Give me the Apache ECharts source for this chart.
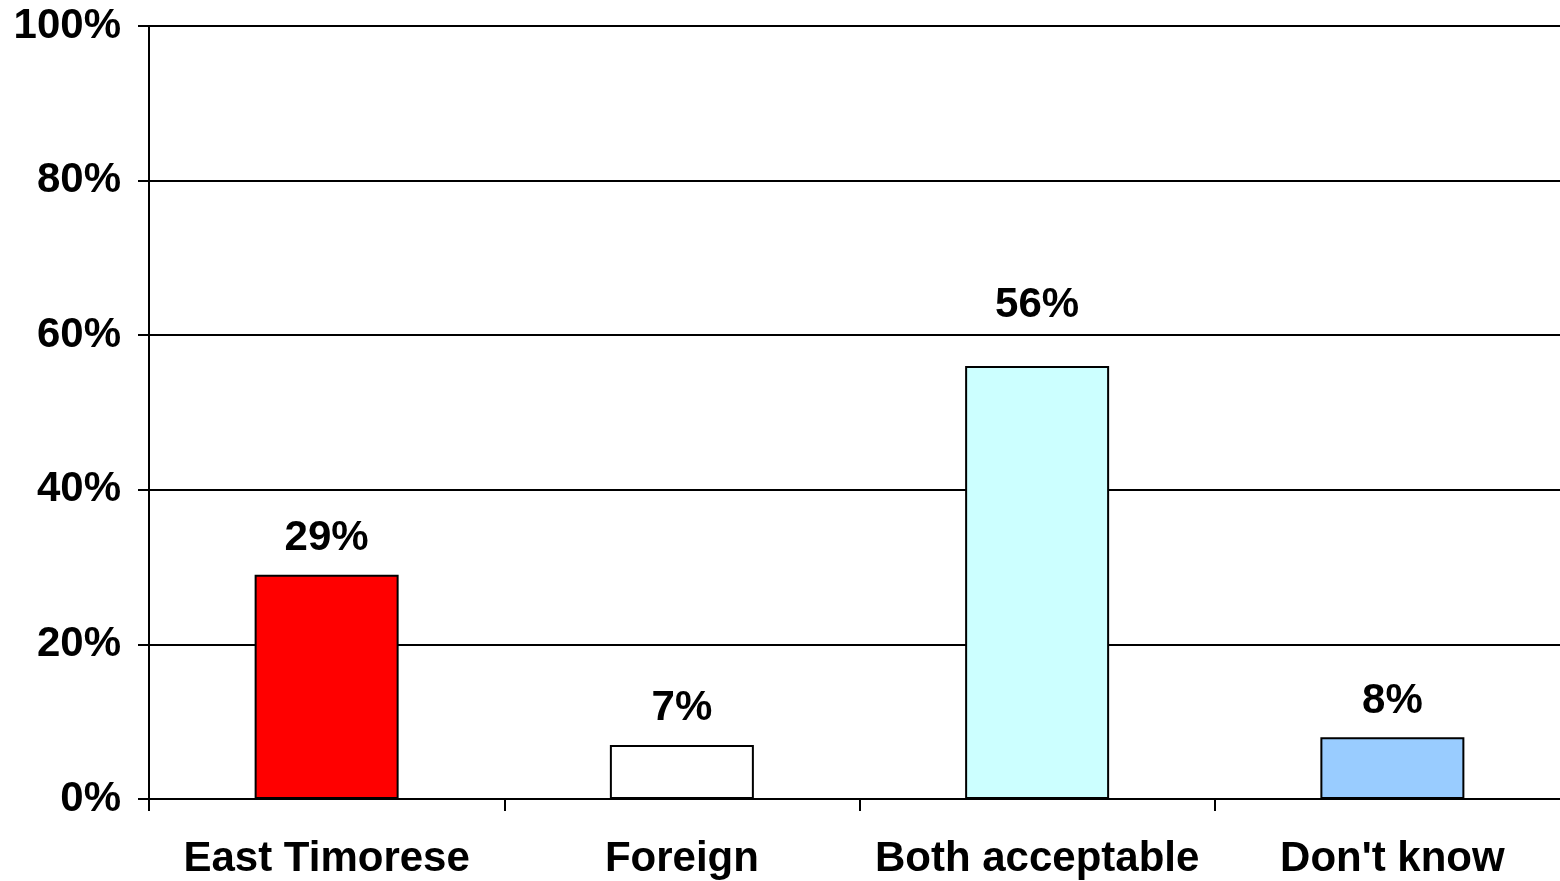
<!DOCTYPE html>
<html>
<head>
<meta charset="utf-8">
<script src="https://cdn.jsdelivr.net/npm/echarts@6/dist/echarts.min.js"></script>
<style>
    html, body { margin: 0; padding: 0; background: #fff; overflow: hidden; }
    #chart { width: 1560px; height: 881px; }
</style>
</head>
<body>
<div id="chart"></div>
<script>
    var categories = ['East Timorese', 'Foreign', 'Both acceptable', "Don't know"];
    var values = [29, 7, 56, 8];
    var barColors = ['#FF0000', '#FFFFFF', '#CCFFFF', '#99CCFF'];
    var labelGaps = [15, 15, 40, 15];
    var yTicks = [0, 20, 40, 60, 80, 100];

    var font = 'Liberation Sans, Arial, sans-serif';

    var myChart = echarts.init(document.getElementById('chart'), null, {renderer: 'canvas'});
    myChart.setOption({
        animation: false,
        backgroundColor: '#fff',
        grid: {
            left: 149,
            width: 1421,
            top: 26,
            height: 773,
            outerBoundsMode: 'none',
            containLabel: false
        },
        xAxis: {
            type: 'category',
            data: categories,
            axisLine: {lineStyle: {color: '#000', width: 2}},
            axisTick: {show: true, length: 12, lineStyle: {color: '#000', width: 2}},
            axisLabel: {
                margin: 39,
                color: '#000',
                fontSize: 42,
                fontWeight: 'bold',
                fontFamily: font,
                interval: 0
            }
        },
        yAxis: {
            type: 'value',
            min: yTicks[0],
            max: yTicks[yTicks.length - 1],
            interval: 20,
            axisLine: {show: true, lineStyle: {color: '#000', width: 2}},
            axisTick: {show: true, length: 11, lineStyle: {color: '#000', width: 2}},
            splitLine: {lineStyle: {color: '#000', width: 2}},
            axisLabel: {
                margin: 28,
                color: '#000',
                fontSize: 42,
                fontWeight: 'bold',
                fontFamily: font,
                padding: [6, 0, 0, 0],
                formatter: '{value}%'
            }
        },
        series: [{
            type: 'bar',
            barWidth: 144,
            data: values.map(function (v, i) {
                return {
                    value: v,
                    itemStyle: {color: barColors[i]},
                    label: {distance: labelGaps[i]}
                };
            }),
            itemStyle: {borderColor: '#000', borderWidth: 2},
            label: {
                show: true,
                position: 'top',
                color: '#000',
                fontSize: 42,
                fontWeight: 'bold',
                fontFamily: font,
                formatter: '{c}%'
            }
        }]
    });
</script>
</body>
</html>
